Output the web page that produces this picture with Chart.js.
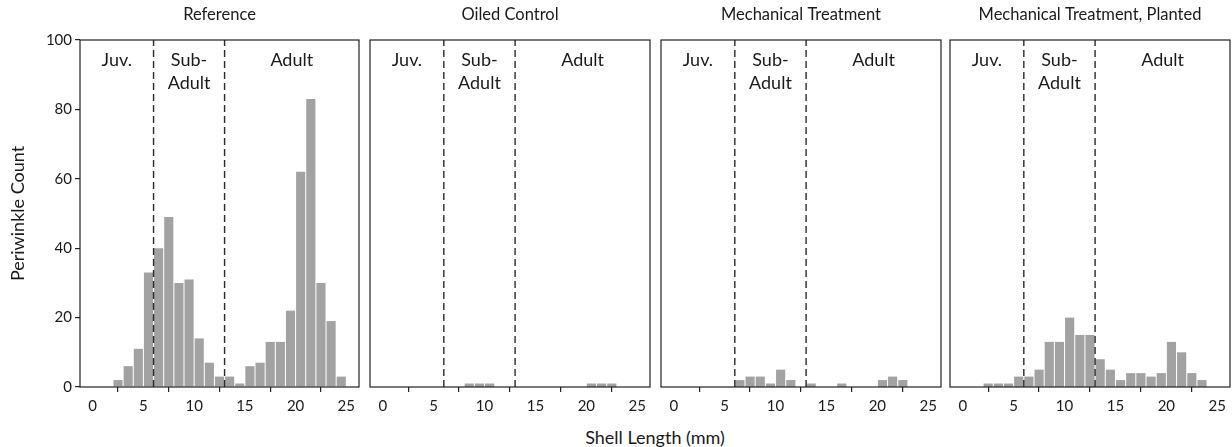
<!DOCTYPE html>
<html>
<head>
<meta charset="utf-8">
<script src="https://cdn.jsdelivr.net/npm/chart.js@4/dist/chart.umd.min.js"></script>
<style>
  body { margin: 0; background: #fff; }
  #wrap { position: relative; width: 1232px; height: 447px; overflow: hidden; font-family: Lato, "Open Sans", sans-serif; }
  .panel { position: absolute; top: 0; }
  #xtitle { position: absolute; left: 0; width: 1310px; top: 426px; line-height: 22px; text-align: center; font-size: 18px; color: #1a1a1a; }
</style>
</head>
<body>
<div id="wrap">
  <canvas id="c0" class="panel"></canvas>
  <canvas id="c1" class="panel"></canvas>
  <canvas id="c2" class="panel"></canvas>
  <canvas id="c3" class="panel"></canvas>
  <div id="xtitle">Shell Length (mm)</div>
</div>
<script>
// bin start (mm); each bar covers [start, start + 1)
const binStarts = [0, 1, 2, 3, 4, 5, 6, 7, 8, 9, 10, 11, 12, 13, 14, 15, 16, 17, 18, 19, 20, 21, 22, 23, 24];

const referenceCounts  = [0, 0, 2, 6, 11, 33, 40, 49, 30, 31, 14, 7, 3, 3, 1, 6, 7, 13, 13, 22, 62, 83, 30, 19, 3];
const oiledCounts      = [0, 0, 0, 0, 0, 0, 0, 0, 1, 1, 1, 0, 0, 0, 0, 0, 0, 0, 0, 0, 1, 1, 1, 0, 0];
const mechanicalCounts = [0, 0, 0, 0, 0, 0, 2, 3, 3, 1, 5, 2, 0, 1, 0, 0, 1, 0, 0, 0, 2, 3, 2, 0, 0];
const plantedCounts    = [0, 0, 1, 1, 1, 3, 3, 5, 13, 13, 20, 15, 15, 8, 5, 2, 4, 4, 3, 4, 13, 10, 4, 2, 0];

const panelTitles = ['Reference', 'Oiled Control', 'Mechanical Treatment', 'Mechanical Treatment, Planted'];
const panelCounts = [referenceCounts, oiledCounts, mechanicalCounts, plantedCounts];

const xTicks = [0, 5, 10, 15, 20, 25];
const yTicks = [0, 20, 40, 60, 80, 100];
const xRange = [-1.25, 26.25];
const yRange = [0, 100];

// life-stage boundaries (mm) and the labels between them
const stageCuts = [6, 13];
const stageLabels = [['Juv.'], ['Sub-', 'Adult'], ['Adult']];

// panel frames on the page: [left, right]
const frames = [[80, 359], [370, 650], [661, 941], [950, 1230]];
const frameTop = 40, frameBottom = 387, canvasH = 425, side = 6;

const textColor = '#1a1a1a';
const barColor = '#a2a2a2';
const fontFamily = 'Lato, "Open Sans", sans-serif';

const framePlugin = {
    id: 'frameAndStages',
    afterDatasetsDraw(chart) {
        const { ctx, chartArea: a, scales: { x } } = chart;
        ctx.save();
        ctx.strokeStyle = '#222';
        ctx.lineWidth = 1.2;
        ctx.strokeRect(a.left, a.top, a.right - a.left, a.bottom - a.top);

        ctx.fillStyle = textColor;
        ctx.textAlign = 'center';
        ctx.textBaseline = 'middle';

        // panel title centred over the frame
        ctx.font = `16.5px ${fontFamily}`;
        ctx.fillText(chart.options.plugins.frameAndStages.title, (a.left + a.right) / 2, 15);

        // stage labels centred in each region
        const edges = [xRange[0], ...stageCuts, xRange[1]];
        ctx.font = `18px ${fontFamily}`;
        stageLabels.forEach((lines, i) => {
            const cx = x.getPixelForValue((edges[i] + edges[i + 1]) / 2);
            lines.forEach((t, j) => ctx.fillText(t, cx, a.top + 20 + j * 23));
        });
        ctx.restore();
    }
};

function buildChart(i) {
    const [left, right] = frames[i];
    const first = i === 0;
    const canvasLeft = first ? 0 : left - side;
    const width = right - canvasLeft + side;
    const el = document.getElementById('c' + i);
    el.style.left = canvasLeft + 'px';
    el.style.width = width + 'px';
    el.style.height = canvasH + 'px';
    el.width = width;
    el.height = canvasH;

    const datasets = [{
        type: 'bar',
        data: binStarts.map((b, k) => ({ x: b + 0.5, y: panelCounts[i][k] })),
        backgroundColor: barColor,
        borderWidth: 0,
        barPercentage: 0.9,
        categoryPercentage: 1,
        order: 2
    }];
    stageCuts.forEach(c => datasets.push({
        type: 'line',
        data: [{ x: c, y: yRange[0] }, { x: c, y: yRange[1] }],
        borderColor: '#2a2a2a',
        borderWidth: 1.4,
        borderDash: [7, 4],
        pointRadius: 0,
        order: 1
    }));

    return new Chart(el, {
        type: 'bar',
        data: { datasets },
        plugins: [framePlugin],
        options: {
            responsive: false,
            animation: false,
            events: [],
            layout: { padding: { left: first ? 0 : side, right: side, top: frameTop, bottom: 0 } },
            plugins: {
                legend: { display: false },
                tooltip: { enabled: false },
                title: { display: false },
                frameAndStages: { title: panelTitles[i] }
            },
            scales: {
                x: {
                    type: 'linear',
                    min: xRange[0],
                    max: xRange[1],
                    offset: false,
                    afterBuildTicks: s => { s.ticks = xTicks.map(v => ({ value: v })); },
                    afterFit: s => { s.height = canvasH - frameBottom; },
                    grid: { drawOnChartArea: false, drawTicks: true, tickLength: 5, color: '#222', lineWidth: 1.2 },
                    border: { display: false },
                    ticks: { color: textColor, font: { family: fontFamily, size: 15 }, padding: 5, maxRotation: 0 }
                },
                y: {
                    display: first,
                    min: yRange[0],
                    max: yRange[1],
                    afterBuildTicks: s => { s.ticks = yTicks.map(v => ({ value: v })); },
                    afterFit: s => { if (first) s.width = frames[0][0]; },
                    grid: { drawOnChartArea: false, drawTicks: true, tickLength: 5, color: '#222', lineWidth: 1.2 },
                    border: { display: false },
                    ticks: { color: textColor, font: { family: fontFamily, size: 15 }, padding: 3 },
                    title: {
                        display: true,
                        text: 'Periwinkle Count',
                        color: textColor,
                        font: { family: fontFamily, size: 18 },
                        padding: { top: 7, bottom: 0 }
                    }
                }
            }
        }
    });
}

panelTitles.forEach((_, i) => buildChart(i));
</script>
</body>
</html>
